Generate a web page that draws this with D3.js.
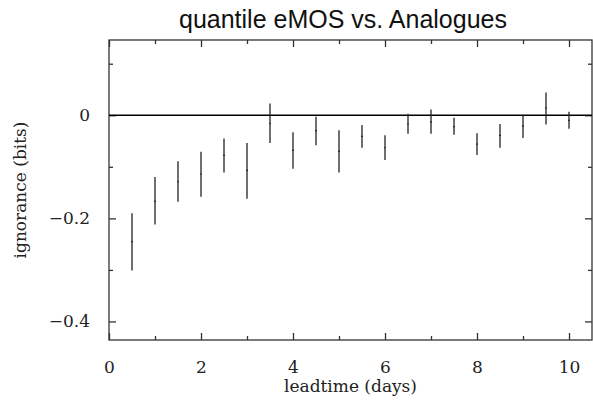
<!DOCTYPE html>
<html>
<head>
<meta charset="utf-8">
<script src="https://cdn.jsdelivr.net/npm/d3@7"></script>
<style>
  body { margin: 0; background: #fff; }
  .tick text { font-family: "DejaVu Serif", serif; font-size: 17px; fill: #222; }
  .axis path, .axis line { stroke: #333; }
</style>
</head>
<body>
<div id="chart"></div>
<script>
// ignorance difference per leadtime
const leadtimes = [0.5, 1, 1.5, 2, 2.5, 3, 3.5, 4, 4.5, 5, 5.5, 6, 6.5, 7, 7.5, 8, 8.5, 9, 9.5, 10];
const centres = [-0.245, -0.167, -0.129, -0.114, -0.078, -0.107, -0.016, -0.068, -0.030, -0.070,
                 -0.041, -0.063, -0.017, -0.013, -0.022, -0.056, -0.039, -0.021, 0.014, -0.010];
const lower = [-0.301, -0.212, -0.168, -0.158, -0.111, -0.162, -0.054, -0.104, -0.058, -0.111,
               -0.063, -0.087, -0.036, -0.036, -0.038, -0.077, -0.063, -0.044, -0.018, -0.026];
const upper = [-0.190, -0.120, -0.089, -0.071, -0.045, -0.054, 0.023, -0.033, -0.003, -0.029,
               -0.019, -0.039, 0.003, 0.011, -0.005, -0.035, -0.017, 0.001, 0.044, 0.007];

const xMajor = [0, 2, 4, 6, 8, 10],
      xMinor = [1, 3, 5, 7, 9],
      yMajor = [0, -0.2, -0.4],
      yMinor = [0.1, -0.1, -0.3];

const titleText = "quantile eMOS vs. Analogues",
      xLabelText = "leadtime (days)",
      yLabelText = "ignorance (bits)";

let margin = { top: 40, left: 109, right: 1, bottom: 71 },
    width = 593 - margin.left - margin.right,
    height = 411 - margin.top - margin.bottom;

let data = leadtimes.map((t, i) => ({ t: t, mid: centres[i], lo: lower[i], hi: upper[i] }));

let svg = d3.select("#chart")
  .append("svg")
    .attr("width", 593)
    .attr("height", 411);

let g = svg.append("g")
    .attr("transform", "translate(" + margin.left + "," + margin.top + ")");

// Scales
let xScale = d3.scaleLinear().domain([0, 10.5]).range([0, width]);
let yScale = d3.scaleLinear().domain([-0.436, 0.146]).range([height, 0]);

const fmtY = d => d === 0 ? "0" : d3.format(".1f")(d);

// ticks point inwards on all four sides, minor ones shorter
function addAxis(axisFn, scale, values, size, pad, transform) {
  let ax = g.append("g")
    .attr("class", "axis")
    .attr("transform", transform)
    .call(axisFn(scale)
      .tickValues(values)
      .tickSizeInner(-size)
      .tickSizeOuter(0)
      .tickPadding(pad || 0)
      .tickFormat(pad ? (scale === yScale ? fmtY : d3.format("d")) : ""));
  ax.select(".domain").remove();
  ax.selectAll("line").attr("stroke-width", 1.3);
  return ax;
}

addAxis(d3.axisBottom, xScale, xMajor, 7, 21, "translate(0," + height + ")");
addAxis(d3.axisBottom, xScale, xMinor, 4, 0, "translate(0," + height + ")");
addAxis(d3.axisTop, xScale, xMajor, 7, 0, "translate(0,0)");
addAxis(d3.axisTop, xScale, xMinor, 4, 0, "translate(0,0)");
addAxis(d3.axisLeft, yScale, yMajor, 7, 19, "translate(0,0)");
addAxis(d3.axisLeft, yScale, yMinor, 4, 0, "translate(0,0)");
addAxis(d3.axisRight, yScale, yMajor, 7, 0, "translate(" + width + ",0)");
addAxis(d3.axisRight, yScale, yMinor, 4, 0, "translate(" + width + ",0)");

// frame
g.append("rect")
    .attr("width", width)
    .attr("height", height)
    .attr("fill", "none")
    .attr("stroke", "#333")
    .attr("stroke-width", 1.3);

// zero line
g.append("line")
    .attr("x1", 0)
    .attr("x2", width)
    .attr("y1", yScale(0))
    .attr("y2", yScale(0))
    .attr("stroke", "#000")
    .attr("stroke-width", 1.3);

// error bars
let bars = g.selectAll(".bar")
  .data(data)
  .enter()
  .append("g")
    .attr("class", "bar");

bars.append("line")
    .attr("x1", d => xScale(d.t))
    .attr("x2", d => xScale(d.t))
    .attr("y1", d => yScale(d.lo))
    .attr("y2", d => yScale(d.hi))
    .attr("stroke", "#222")
    .attr("stroke-width", 1.3);

// tiny mark at the centre value
bars.append("line")
    .attr("x1", d => xScale(d.t) - 0.9)
    .attr("x2", d => xScale(d.t) + 0.9)
    .attr("y1", d => yScale(d.mid))
    .attr("y2", d => yScale(d.mid))
    .attr("stroke", "#222")
    .attr("stroke-width", 1.2);

// labels
svg.append("text")
    .attr("x", 343)
    .attr("y", 28)
    .attr("text-anchor", "middle")
    .style("font-family", "'Liberation Sans', sans-serif")
    .style("font-size", "25px")
    .style("fill", "#111")
    .text(titleText);

svg.append("text")
    .attr("x", margin.left + width / 2)
    .attr("y", 392)
    .attr("text-anchor", "middle")
    .style("font-family", "'DejaVu Serif', serif")
    .style("font-size", "17px")
    .style("fill", "#222")
    .text(xLabelText);

svg.append("text")
    .attr("transform", "translate(26," + (margin.top + height / 2) + ") rotate(-90)")
    .attr("text-anchor", "middle")
    .style("font-family", "'DejaVu Serif', serif")
    .style("font-size", "17px")
    .style("fill", "#222")
    .text(yLabelText);
</script>
</body>
</html>
